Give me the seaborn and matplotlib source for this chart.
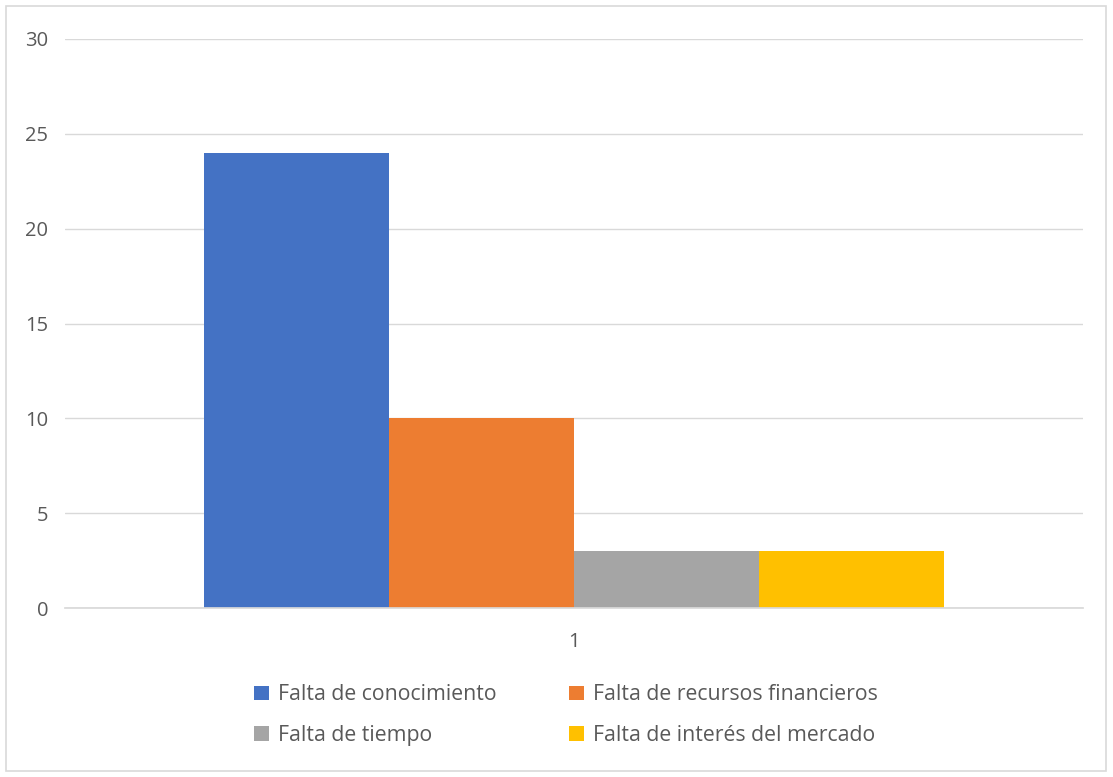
import matplotlib
matplotlib.use("Agg")
import matplotlib.pyplot as plt
import seaborn as sns
import pandas as pd
from matplotlib.patches import Rectangle, Patch

# data
groups = ["1", "1", "1", "1"]
reasons = ["Falta de conocimiento", "Falta de recursos financieros",
           "Falta de tiempo", "Falta de interés del mercado"]
counts = [24, 10, 3, 3]
colors = ["#4472C4", "#ED7D31", "#A5A5A5", "#FFC000"]
y_ticks = [0, 5, 10, 15, 20, 25, 30]

df = pd.DataFrame({"grupo": groups, "motivo": reasons, "valor": counts})

sns.set_theme(style="white")
plt.rcParams["font.family"] = ["Open Sans", "DejaVu Sans"]

fig = plt.figure(figsize=(11.13, 7.77), dpi=100)
ax = fig.add_axes([65 / 1113, 1 - 608 / 777, 1018 / 1113, 569 / 777])

sns.barplot(data=df, x="grupo", y="valor", hue="motivo", hue_order=reasons,
            palette=colors, width=0.727, gap=0, saturation=1,
            edgecolor="none", linewidth=0, legend=False, ax=ax)

ax.set_ylim(0, 30)
ax.set_xlim(-0.5, 0.5)
ax.set_yticks(y_ticks)
ax.yaxis.grid(True, color="#D9D9D9", linewidth=1)
ax.set_axisbelow(True)
for s in ["top", "right", "left"]:
    ax.spines[s].set_visible(False)
ax.spines["bottom"].set_color("#D9D9D9")
ax.tick_params(axis="both", length=0, labelsize=14.5, labelcolor="#595959")
ax.tick_params(axis="y", pad=12)
ax.tick_params(axis="x", pad=17)
ax.set_xlabel("")
ax.set_ylabel("")

# legend in rows: matplotlib fills columns first, so reorder
order = [0, 2, 1, 3]
handles = [Patch(facecolor=colors[i], edgecolor="none") for i in order]
labels = [reasons[i] for i in order]
fig.legend(handles, labels, ncol=2, loc="center",
           bbox_to_anchor=(566 / 1113, 1 - 715 / 777), frameon=False,
           fontsize=15.3, labelcolor="#595959", handlelength=0.7,
           handleheight=0.7, handletextpad=0.45, columnspacing=3.4,
           labelspacing=0.9)

fig.patches.append(Rectangle((6 / 1113, 6 / 777), 1100 / 1113, 765 / 777,
                             transform=fig.transFigure, fill=False,
                             edgecolor="#D9D9D9", linewidth=1.2))

fig.savefig("out.png", dpi=100)
